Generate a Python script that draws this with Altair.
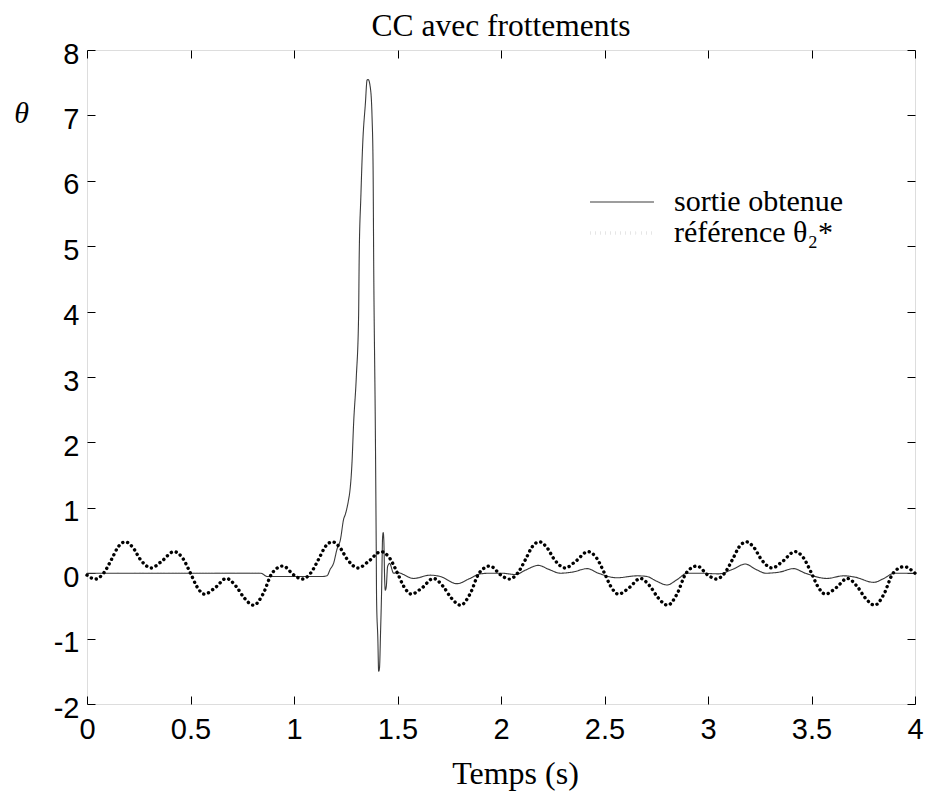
import altair as alt
import pandas as pd

# --- data ---
sortie_t = [0.00, 0.40, 0.84, 0.87, 1.00, 1.135, 1.159, 1.175, 1.191, 1.208, 1.224, 1.24, 1.248,
            1.264, 1.269, 1.280, 1.288, 1.301, 1.312, 1.315, 1.323, 1.332, 1.345, 1.353, 1.358,
            1.369, 1.377, 1.382, 1.385, 1.393, 1.397, 1.399, 1.405, 1.409, 1.413, 1.418, 1.423,
            1.428, 1.431, 1.434, 1.438, 1.441, 1.446, 1.452, 1.462, 1.481, 1.498, 1.578, 1.658,
            1.706, 1.787, 1.85, 1.90, 1.95, 2.00, 2.07, 2.12, 2.18, 2.23, 2.287, 2.35, 2.416,
            2.47, 2.56, 2.657, 2.705, 2.75, 2.802, 2.85, 2.90, 2.96, 3.05, 3.12, 3.18, 3.23,
            3.28, 3.35, 3.413, 3.47, 3.575, 3.655, 3.71, 3.80, 3.85, 3.90, 4.00]
sortie_v = [0.00, 0.00, 0.00, -0.05, -0.05, -0.05, -0.04, 0.06, 0.15, 0.37, 0.51, 0.83, 0.90,
            1.13, 1.23, 1.68, 2.29, 3.00, 3.92, 4.84, 5.76, 6.57, 7.19, 7.54, 7.55,
            7.42, 6.98, 6.22, 4.74, 2.19, 0.50, -0.41, -1.00, -1.50, -1.45, -0.92, -0.30,
            0.55, 0.62, 0.50, -0.10, -0.26, -0.20, 0.10, 0.15, 0.00, 0.01, -0.08, -0.03,
            -0.05, -0.16, -0.08, -0.01, 0.00, 0.00, -0.02, 0.05, 0.12, 0.06, 0.00, 0.02, 0.07,
            0.00, -0.07, -0.04, -0.05, -0.12, -0.18, -0.10, 0.00, 0.00, -0.01, 0.06, 0.14, 0.06,
            0.00, 0.02, 0.07, 0.00, -0.08, -0.04, -0.06, -0.14, -0.08, 0.00, 0.00]

ref_t = [0.00, 0.04, 0.08, 0.12, 0.15, 0.185, 0.22, 0.26, 0.31, 0.36, 0.42, 0.46, 0.50, 0.53,
         0.567, 0.62, 0.673, 0.72, 0.76, 0.805, 0.85, 0.894, 0.947,
         1.00, 1.04, 1.08, 1.12, 1.15, 1.185, 1.22, 1.26, 1.31, 1.36, 1.42, 1.46, 1.50, 1.53,
         1.567, 1.62, 1.673, 1.72, 1.76, 1.805, 1.85, 1.894, 1.947,
         2.00, 2.04, 2.08, 2.12, 2.15, 2.185, 2.22, 2.26, 2.31, 2.36, 2.42, 2.46, 2.50, 2.53,
         2.567, 2.62, 2.673, 2.72, 2.76, 2.805, 2.85, 2.894, 2.947,
         3.00, 3.04, 3.08, 3.12, 3.15, 3.185, 3.22, 3.26, 3.31, 3.36, 3.42, 3.46, 3.50, 3.53,
         3.567, 3.62, 3.673, 3.72, 3.76, 3.805, 3.85, 3.894, 3.947, 4.00]
ref_v = [-0.03, -0.09, 0.00, 0.22, 0.40, 0.48, 0.40, 0.20, 0.08, 0.18, 0.33, 0.24, 0.00, -0.20,
         -0.32, -0.22, -0.08, -0.20, -0.38, -0.49, -0.32, 0.00, 0.11,
         -0.03, -0.09, 0.00, 0.22, 0.40, 0.48, 0.40, 0.20, 0.08, 0.18, 0.33, 0.24, 0.00, -0.20,
         -0.32, -0.22, -0.08, -0.20, -0.38, -0.49, -0.32, 0.00, 0.11,
         -0.03, -0.09, 0.00, 0.22, 0.40, 0.48, 0.40, 0.20, 0.08, 0.18, 0.33, 0.24, 0.00, -0.20,
         -0.32, -0.22, -0.08, -0.20, -0.38, -0.49, -0.32, 0.00, 0.11,
         -0.03, -0.09, 0.00, 0.22, 0.40, 0.48, 0.40, 0.20, 0.08, 0.18, 0.33, 0.24, 0.00, -0.20,
         -0.32, -0.22, -0.08, -0.20, -0.38, -0.49, -0.32, 0.00, 0.10, 0.00]

series_names = ["sortie obtenue", "référence θ₂*"]
x_ticks = [0, 0.5, 1, 1.5, 2, 2.5, 3, 3.5, 4]
y_ticks = [-2, -1, 0, 1, 2, 3, 4, 5, 6, 7, 8]

df = pd.concat([
    pd.DataFrame({"t": sortie_t, "v": sortie_v, "série": series_names[0], "ordre": 0}),
    pd.DataFrame({"t": ref_t, "v": ref_v, "série": series_names[1], "ordre": 1}),
], ignore_index=True)

xscale = alt.Scale(domain=[0, 4], nice=False, zero=False)
yscale = alt.Scale(domain=[-2, 8], nice=False, zero=False)

lines = alt.Chart(df).mark_line(interpolate="monotone", strokeCap="round", strokeJoin="round").encode(
    x=alt.X("t:Q", scale=xscale, axis=alt.Axis(
        values=x_ticks, orient="bottom", offset=-8, tickSize=8, domain=False, grid=False,
        labelExpr="'' + datum.value", labelFont="Liberation Sans", labelFontSize=29,
        labelColor="black", labelPadding=11, labelFlush=False, labelOverlap=False,
        tickColor="black", title="Temps (s)", titleFont="Liberation Serif", titleFontSize=32,
        titleFontWeight="normal", titleColor="black", titleBaseline="alphabetic",
        titleAlign="center", titleX=428, titleY=87)),
    y=alt.Y("v:Q", scale=yscale, axis=alt.Axis(
        values=y_ticks, orient="left", offset=-8, tickSize=8, domain=False, grid=False,
        labelExpr="'' + datum.value", labelFont="Liberation Sans", labelFontSize=29,
        labelColor="black", labelPadding=8, labelFlush=False, labelOverlap=False,
        labelOffset=4, tickColor="black", title="θ", titleAngle=0, titleFont="Liberation Serif",
        titleFontStyle="italic", titleFontSize=30, titleFontWeight="normal", titleColor="black",
        titleAlign="center", titleBaseline="middle", titleX=-74, titleY=63)),
    color=alt.Color("série:N", scale=alt.Scale(domain=series_names, range=["#3a3a3a", "#000000"]),
                    legend=alt.Legend(title=None, orient="none", legendX=520, legendY=137,
                                      symbolType="M-2.46,0H2.46", symbolSize=676,
                                      labelFont="Liberation Serif",
                                      labelFontSize=30, labelColor="black", labelOffset=37,
                                      labelLimit=400, rowPadding=1, padding=0)),
    strokeDash=alt.StrokeDash("série:N", scale=alt.Scale(domain=series_names, range=[[1, 0], [0.1, 5]])),
    strokeWidth=alt.StrokeWidth("série:N", scale=alt.Scale(domain=series_names, range=[1.1, 3.4])),
    order=alt.Order("ordre:Q"),
)

frame = alt.Chart(df).mark_point(opacity=0).encode(
    x=alt.X("t:Q", scale=xscale, axis=alt.Axis(
        values=x_ticks, orient="top", offset=-8, tickSize=8, domain=False, grid=False,
        labels=False, tickColor="black", title=None)),
    y=alt.Y("v:Q", scale=yscale, axis=alt.Axis(
        values=y_ticks, orient="right", offset=-8, tickSize=8, domain=False, grid=False,
        labels=False, tickColor="black", title=None)),
)

chart = alt.layer(frame, lines).resolve_axis(x="independent", y="independent").properties(
    width=828, height=654,
    padding={"left": 87, "top": 50, "right": 12, "bottom": 94},
    autosize=alt.AutoSizeParams(type="none"),
    title=alt.Title("CC avec frottements", font="Liberation Serif", fontSize=31.5,
                    fontWeight="normal", color="black", anchor="middle", offset=14, dy=16),
).configure_view(stroke="black", strokeWidth=1).configure(background="white")

chart.save("out.html", embed_options={"renderer": "svg", "actions": False})
